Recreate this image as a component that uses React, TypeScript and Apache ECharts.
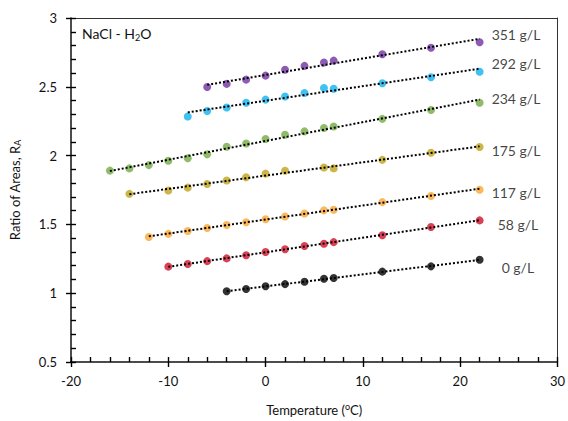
import React, { useEffect, useRef } from "react";
import * as echarts from "echarts";

const seriesNames = ["0 g/L", "58 g/L", "117 g/L", "175 g/L", "234 g/L", "292 g/L", "351 g/L"];
const seriesColors = ["#000000", "#d0112b", "#fba634", "#bfa31b", "#73aa45", "#12b2ee", "#7032a0"];

const t0 = [-4, -2, 0, 2, 4, 6, 7, 12, 17, 22];
const v0 = [1.014, 1.031, 1.05, 1.066, 1.083, 1.105, 1.11, 1.157, 1.195, 1.243];
const t58 = [-10, -8, -6, -4, -2, 0, 2, 4, 6, 7, 12, 17, 22];
const v58 = [1.193, 1.212, 1.233, 1.253, 1.276, 1.3, 1.319, 1.343, 1.359, 1.371, 1.421, 1.481, 1.529];
const t117 = [-12, -10, -8, -6, -4, -2, 0, 2, 4, 6, 7, 12, 17, 22];
const v117 = [1.409, 1.431, 1.452, 1.474, 1.495, 1.516, 1.538, 1.557, 1.579, 1.602, 1.607, 1.662, 1.707, 1.752];
const t175 = [-14, -10, -8, -6, -4, -2, 0, 2, 6, 7, 12, 17, 22];
const v175 = [1.722, 1.746, 1.767, 1.794, 1.819, 1.843, 1.869, 1.89, 1.914, 1.907, 1.969, 2.021, 2.062];
const t234 = [-16, -14, -12, -10, -8, -6, -4, -2, 0, 2, 4, 6, 7, 12, 17, 22];
const v234 = [1.891, 1.907, 1.931, 1.962, 1.981, 2.009, 2.064, 2.088, 2.121, 2.152, 2.176, 2.2, 2.212, 2.267, 2.331, 2.384];
const t292 = [-8, -6, -4, -2, 0, 2, 4, 6, 7, 12, 17, 22];
const v292 = [2.284, 2.324, 2.35, 2.384, 2.407, 2.429, 2.455, 2.491, 2.486, 2.526, 2.569, 2.609];
const t351 = [-6, -4, -2, 0, 2, 4, 6, 7, 12, 17, 22];
const v351 = [2.498, 2.521, 2.552, 2.581, 2.624, 2.652, 2.676, 2.69, 2.736, 2.784, 2.824];

const temps = [t0, t58, t117, t175, t234, t292, t351];
const values = [v0, v58, v117, v175, v234, v292, v351];

// label placement styles (offset from last point)
const labelDistance = [18, 14, 8, 8, 8, 8, 8];
const labelDy = [8, 4, 3, 3, -4, -8, -8];

const FONT = "Lato, 'Open Sans', sans-serif";

function fit(xs: number[], ys: number[]) {
  const n = xs.length;
  const mx = xs.reduce((a, b) => a + b, 0) / n;
  const my = ys.reduce((a, b) => a + b, 0) / n;
  let sxy = 0, sxx = 0;
  for (let i = 0; i < n; i++) {
    sxy += (xs[i] - mx) * (ys[i] - my);
    sxx += (xs[i] - mx) * (xs[i] - mx);
  }
  const b = sxy / sxx;
  return { a: my - b * mx, b };
}

export default function App() {
  const ref = useRef<HTMLDivElement>(null);
  useEffect(() => {
    if (!ref.current) return;
    const chart = echarts.init(ref.current, null, { renderer: "svg" });
    const series: any[] = [];
    temps.forEach((ts, i) => {
      const vs = values[i];
      const { a, b } = fit(ts, vs);
      const x0 = Math.min(...ts);
      const x1 = Math.max(...ts);
      series.push({
        type: "line",
        name: seriesNames[i] + " trend",
        data: [[x0, a + b * x0], [x1, a + b * x1]],
        symbol: "none",
        lineStyle: { color: "#000", width: 2, type: [2, 2] },
        z: 5,
        silent: true,
      });
      series.push({
        type: "scatter",
        name: seriesNames[i],
        symbol: "circle",
        symbolSize: 8,
        itemStyle: { color: seriesColors[i] },
        z: 3,
        data: ts.map((t, j) => {
          const item: any = { value: [t, vs[j]] };
          if (j === ts.length - 1) {
            item.label = {
              show: true,
              position: "right",
              distance: labelDistance[i],
              offset: [0, labelDy[i]],
              formatter: seriesNames[i],
              color: "#111",
              fontSize: 14,
              fontFamily: FONT,
            };
          }
          return item;
        }),
      });
    });

    const tickStyle = { color: "#000", width: 1.4 };
    const frameAxis = {
      type: "value",
      axisLine: { show: true, onZero: false, lineStyle: { color: "#333", width: 1 } },
      axisTick: { show: false },
      axisLabel: { show: false },
      splitLine: { show: false },
    };

    chart.setOption({
      animation: false,
      grid: { left: 69, right: 9, top: 18, bottom: 53 },
      graphic: [
        {
          type: "text",
          left: 82,
          top: 26,
          style: {
            text: "NaCl - H{sub|2}O",
            fontSize: 14,
            fontFamily: FONT,
            fill: "#111",
            rich: {
              sub: { fontSize: 9, padding: [8, 0, 0, 0], fontFamily: FONT, fill: "#111" },
            },
          },
        },
      ],
      xAxis: [
        {
          type: "value",
          min: -20,
          max: 30,
          interval: 10,
          position: "bottom",
          name: "Temperature ({sup|o}C)",
          nameLocation: "middle",
          nameGap: 40,
          nameTextStyle: {
            fontSize: 13,
            fontFamily: FONT,
            color: "#111",
            rich: { sup: { fontSize: 9, padding: [0, 0, 6, 0], fontFamily: FONT, color: "#111" } },
          },
          axisLine: { show: true, onZero: false, lineStyle: { color: "#111", width: 1.5 } },
          axisTick: { show: true, inside: false, length: 5, lineStyle: tickStyle },
          axisLabel: { fontSize: 13, fontFamily: FONT, color: "#111", margin: 12 },
          splitLine: { show: false },
        },
        {
          type: "value",
          min: -20,
          max: 30,
          interval: 2,
          position: "bottom",
          axisLine: { show: false, onZero: false },
          axisTick: { show: true, inside: true, length: 5, lineStyle: tickStyle },
          axisLabel: { show: false },
          splitLine: { show: false },
        },
        { ...frameAxis, min: -20, max: 30, position: "top" },
      ],
      yAxis: [
        {
          type: "value",
          min: 0.5,
          max: 3,
          interval: 0.5,
          position: "left",
          name: "Ratio of Areas, R{sub|A}",
          nameLocation: "middle",
          nameGap: 49,
          nameRotate: 90,
          nameTextStyle: {
            fontSize: 13,
            fontFamily: FONT,
            color: "#111",
            rich: { sub: { fontSize: 9, padding: [6, 0, 0, 0], fontFamily: FONT, color: "#111" } },
          },
          axisLine: { show: true, onZero: false, lineStyle: { color: "#111", width: 1.5 } },
          axisTick: { show: true, inside: false, length: 5, lineStyle: tickStyle },
          axisLabel: { fontSize: 13, fontFamily: FONT, color: "#111", margin: 14 },
          splitLine: { show: false },
        },
        {
          type: "value",
          min: 0.5,
          max: 3,
          interval: 0.1,
          position: "left",
          axisLine: { show: false, onZero: false },
          axisTick: { show: true, inside: true, length: 5, lineStyle: tickStyle },
          axisLabel: { show: false },
          splitLine: { show: false },
        },
        { ...frameAxis, min: 0.5, max: 3, position: "right" },
      ],
      series,
    });
    return () => chart.dispose();
  }, []);
  return (
    <div
      ref={ref}
      style={{ position: "fixed", left: 0, top: 0, width: 568, height: 421, background: "#fff" }}
    />
  );
}
